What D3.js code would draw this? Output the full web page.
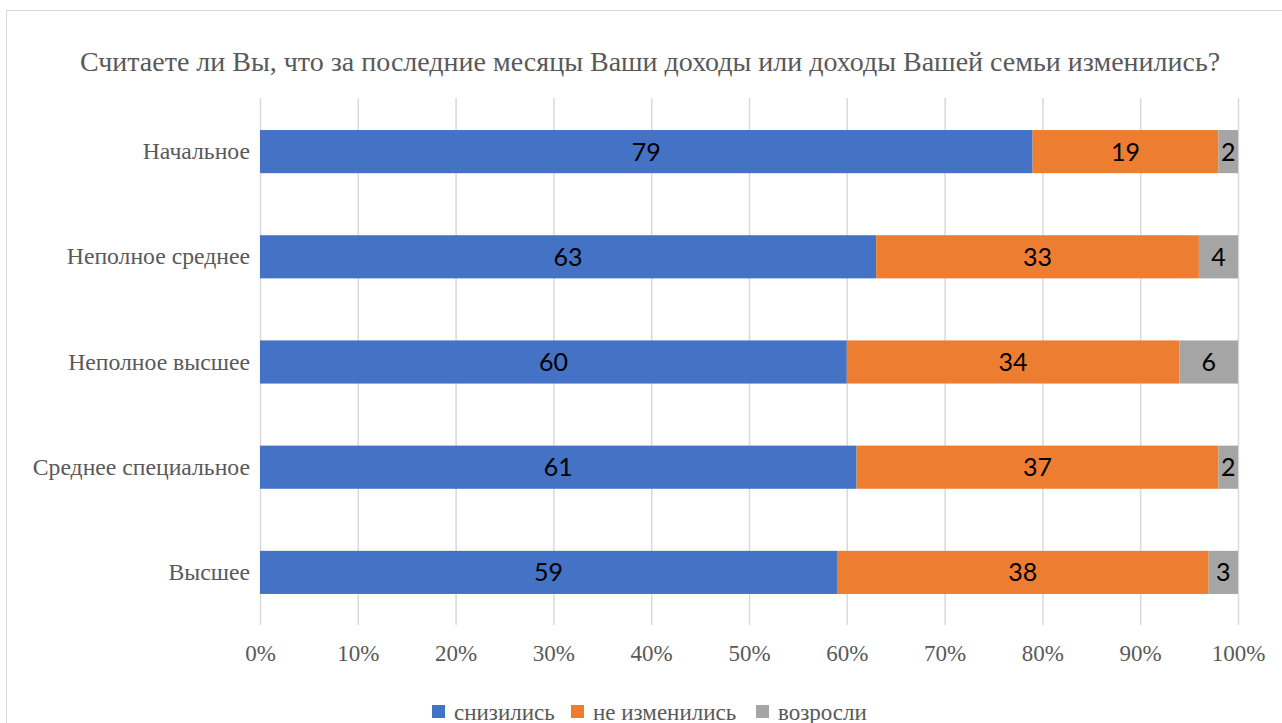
<!DOCTYPE html>
<html>
<head>
<meta charset="utf-8">
<script src="https://cdn.jsdelivr.net/npm/d3@7"></script>
<style>
  body { margin: 0; background: #fff; }
  svg { display: block; }
</style>
</head>
<body>
<div id="chart"></div>
<script>
// Data
var categories = ["Начальное", "Неполное среднее", "Неполное высшее", "Среднее специальное", "Высшее"];
var seriesNames = ["снизились", "не изменились", "возросли"];
var decreased = [79, 63, 60, 61, 59];
var unchanged = [19, 33, 34, 37, 38];
var increased = [2, 4, 6, 2, 3];
var tickValues = [0, 10, 20, 30, 40, 50, 60, 70, 80, 90, 100];
var colors = ["#4472C4", "#ED7D31", "#A5A5A5"];

var svgWidth = 1282;
var svgHeight = 723;
var margin = { top: 99, right: 44, bottom: 98, left: 260 };
var chartWidth = svgWidth - margin.left - margin.right;
var chartHeight = svgHeight - margin.top - margin.bottom;

var svg = d3.select("#chart").append("svg")
    .attr("width", svgWidth)
    .attr("height", svgHeight);

// outer frame
svg.append("rect")
    .attr("x", 6.5).attr("y", 10.5)
    .attr("width", 1290).attr("height", 730)
    .attr("fill", "none")
    .attr("stroke", "#d9d9d9");

var g = svg.append("g")
    .attr("transform", `translate(${margin.left}, ${margin.top})`);

var table = categories.map(function (c, i) {
    return { cat: c, s0: decreased[i], s1: unchanged[i], s2: increased[i] };
});
var stack = d3.stack().keys(["s0", "s1", "s2"])(table);

var xScale = d3.scaleLinear().domain([0, 100]).range([0, chartWidth]);
var yScale = d3.scaleBand().domain(categories).range([0, chartHeight]).paddingInner(0.59).paddingOuter(0.295);

// gridlines
g.selectAll(".grid")
    .data(tickValues)
    .enter()
    .append("line")
    .attr("x1", d => xScale(d) + 0.5)
    .attr("x2", d => xScale(d) + 0.5)
    .attr("y1", -1)
    .attr("y2", chartHeight)
    .attr("stroke", "#d9d9d9")
    .attr("stroke-width", 1.5);

// bars
var layers = g.selectAll(".layer")
    .data(stack)
    .enter()
    .append("g")
    .attr("fill", (d, i) => colors[i]);

layers.selectAll("rect")
    .data(d => d)
    .enter()
    .append("rect")
    .attr("x", d => xScale(d[0]))
    .attr("y", d => yScale(d.data.cat))
    .attr("width", d => xScale(d[1]) - xScale(d[0]))
    .attr("height", yScale.bandwidth());

layers.selectAll("text")
    .data(d => d)
    .enter()
    .append("text")
    .attr("x", d => (xScale(d[0]) + xScale(d[1])) / 2)
    .attr("y", d => yScale(d.data.cat) + yScale.bandwidth() / 2)
    .attr("dy", "0.36em")
    .attr("text-anchor", "middle")
    .attr("font-family", "Lato, sans-serif")
    .attr("font-size", "25px")
    .attr("fill", "#000")
    .text(d => d[1] - d[0]);

// axes
var bottomAxis = d3.axisBottom(xScale).tickValues(tickValues).tickSize(0).tickPadding(20).tickFormat(d => d + "%");
var xAxis = g.append("g")
    .attr("transform", `translate(0, ${chartHeight})`)
    .call(bottomAxis);
xAxis.select(".domain").remove();
xAxis.selectAll("text")
    .attr("font-family", "'Liberation Serif', serif")
    .attr("font-size", "23px")
    .attr("fill", "#595959");

var leftAxis = d3.axisLeft(yScale).tickSize(0).tickPadding(10);
var yAxis = g.append("g").call(leftAxis);
yAxis.select(".domain").remove();
yAxis.selectAll("text")
    .attr("font-family", "'Liberation Serif', serif")
    .attr("font-size", "23.7px")
    .attr("fill", "#595959");

// title
svg.append("text")
    .attr("x", 650)
    .attr("y", 71)
    .attr("text-anchor", "middle")
    .attr("font-family", "'Liberation Serif', serif")
    .attr("font-size", "28px")
    .attr("fill", "#595959")
    .text("Считаете ли Вы, что за последние месяцы Ваши доходы или доходы Вашей семьи изменились?");

// legend
var legendX = [432, 571, 756];
var legend = svg.selectAll(".legend")
    .data(seriesNames)
    .enter()
    .append("g")
    .attr("transform", (d, i) => `translate(${legendX[i]}, 705)`);
legend.append("rect")
    .attr("width", 13).attr("height", 13)
    .attr("fill", (d, i) => colors[i]);
legend.append("text")
    .attr("x", 22)
    .attr("y", 7)
    .attr("dy", "0.36em")
    .attr("font-family", "'Liberation Serif', serif")
    .attr("font-size", "23px")
    .attr("fill", "#595959")
    .text(d => d);
</script>
</body>
</html>
